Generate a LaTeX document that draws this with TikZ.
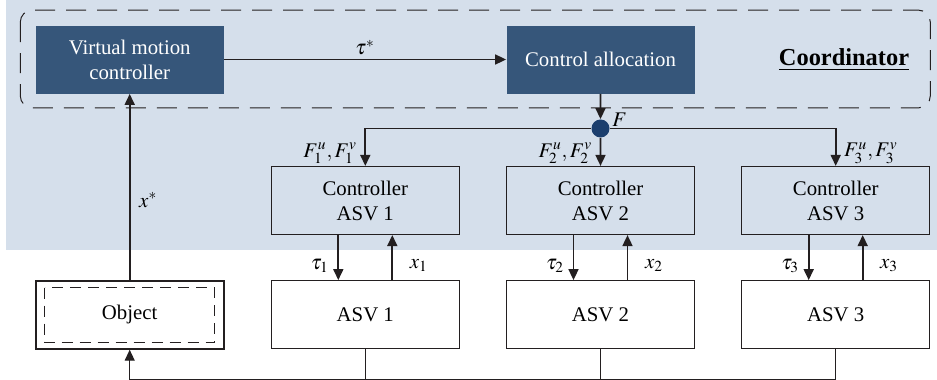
\documentclass[tikz,border=0pt]{standalone}
\usepackage{mathptmx}
\usepackage{fontspec}
\setmainfont{Liberation Serif}
\usepackage{xcolor}
\definecolor{cMain}{HTML}{36567A}
\definecolor{cDot}{HTML}{1C3F6E}
\definecolor{cBack}{HTML}{D5DFEB}
\definecolor{cLine}{HTML}{231F20}
\usetikzlibrary{positioning,arrows.meta,calc}
\tikzset{
  node-box/.style={draw=cLine,line width=0.6pt,minimum width=94pt,
    minimum height=34pt,align=center,inner sep=2pt},
  node-dark/.style={fill=cMain,text=white,minimum width=94pt,
    minimum height=34pt,align=center,inner sep=2pt},
  node-object/.style={node-box,line width=1pt},
  node-dot/.style={circle,fill=cDot,minimum size=9pt,inner sep=0pt},
  arrow/.style={-{Triangle[length=5.5pt,width=5pt]},line width=0.85pt,draw=cLine},
  arrow-thin/.style={-{Triangle[length=5.5pt,width=5pt]},line width=0.6pt,draw=cLine},
  feedback/.style={line width=0.6pt,draw=cLine},
  coord-frame/.style={dash pattern=on 10pt off 5.5pt,line width=0.5pt,
    rounded corners=6pt,draw=cLine},
  object-inner/.style={dash pattern=on 5.5pt off 3.5pt,line width=0.6pt,draw=cLine},
}

\begin{document}
\begin{tikzpicture}[node distance=36pt and 23pt,font=\fontsize{10.4}{12.5}\selectfont]
  \useasboundingbox (0,0) rectangle (468.5pt,-190pt);
  \fill[cBack] (3pt,0) rectangle (468.5pt,-125pt);
  % coordinator level
  \node[node-dark] (ca) at (300.25pt,-29.75pt) {Control allocation};
  \node[node-box,below=of ca]          (ctrl2) {Controller\\ASV 2};
  \node[node-box,left=of ctrl2]        (ctrl1) {Controller\\ASV 1};
  \node[node-box,right=of ctrl2]       (ctrl3) {Controller\\ASV 3};
  \node[node-box,below=22.5pt of ctrl1] (asv1) {ASV 1};
  \node[node-box,below=22.5pt of ctrl2] (asv2) {ASV 2};
  \node[node-box,below=22.5pt of ctrl3] (asv3) {ASV 3};
  \node[node-object,left=of asv1]      (obj)  {Object};
  \node[node-dark] (vmc) at (obj |- ca) {Virtual motion\\controller};
  \node[right=38.5pt of ca,font=\bfseries\fontsize{12.2}{14}\selectfont] (coord) {\underline{Coordinator}};
  \coordinate (frame-se) at (ctrl3.east |- ca.south);
  \draw[coord-frame] ([shift={(-7.5pt,7.5pt)}]vmc.north west) rectangle ([yshift=-7pt]frame-se);
  \draw[object-inner] ([shift={(5pt,-4pt)}]obj.north west) rectangle ([shift={(-5pt,3.5pt)}]obj.south east);
  \node[node-dot] (junc) at ($(ca.south)!0.48!(ctrl2.north)$) {};
  \node[anchor=south west,inner sep=1pt] at (junc.east) {$F$};
  % arrows
  \draw[arrow] (vmc) -- node[above=-1.5pt] {$\tau^{*}$} (ca);
  \draw[arrow] (ca) -- (junc.north);
  \draw[arrow] (junc) -| (ctrl1.north);
  \draw[arrow] (junc) -- (ctrl2);
  \draw[arrow] (junc) -| (ctrl3.north);
  \node[anchor=south east,inner sep=1pt] at ([xshift=-3pt]ctrl1.north) {$F_1^u,F_1^v$};
  \node[anchor=south east,inner sep=1pt] at ([xshift=-3pt]ctrl2.north) {$F_2^u,F_2^v$};
  \node[anchor=south west,inner sep=1pt] at ([xshift=3pt]ctrl3.north) {$F_3^u,F_3^v$};
  \draw[arrow] ([xshift=-13.5pt]ctrl1.south) -- node[pos=0.68,left=1pt] {$\tau_1$} ([xshift=-13.5pt]asv1.north);
  \draw[arrow] ([xshift=13.5pt]asv1.north) -- node[pos=0.32,right=5pt] {$x_1$} ([xshift=13.5pt]ctrl1.south);
  \draw[arrow] ([xshift=-13.5pt]ctrl2.south) -- node[pos=0.68,left=1pt] {$\tau_2$} ([xshift=-13.5pt]asv2.north);
  \draw[arrow] ([xshift=13.5pt]asv2.north) -- node[pos=0.32,right=5pt] {$x_2$} ([xshift=13.5pt]ctrl2.south);
  \draw[arrow] ([xshift=-13.5pt]ctrl3.south) -- node[pos=0.68,left=1pt] {$\tau_3$} ([xshift=-13.5pt]asv3.north);
  \draw[arrow] ([xshift=13.5pt]asv3.north) -- node[pos=0.32,right=5pt] {$x_3$} ([xshift=13.5pt]ctrl3.south);
  \draw[arrow] (obj) -- node[pos=0.43,right=1pt] {$x^{*}$} (vmc);
  % feedback to object
  \coordinate (fb-end) at ([yshift=-15pt]asv3.south);
  \draw[feedback] (asv1.south) -- (asv1.south |- fb-end);
  \draw[feedback] (asv2.south) -- (asv2.south |- fb-end);
  \draw[arrow-thin] (asv3.south) -- (fb-end) -| (obj.south);
\end{tikzpicture}
\end{document}
